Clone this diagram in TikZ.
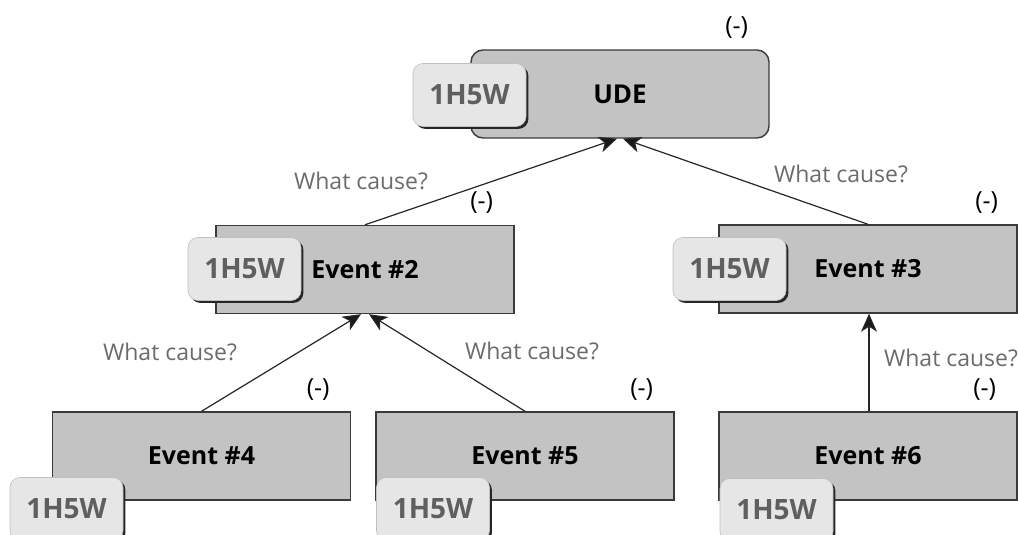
\documentclass[tikz,border=0pt]{standalone}
\usepackage{fontspec}
\setmainfont{Open Sans}
\usetikzlibrary{arrows.meta,shadows,calc}
\definecolor{boxfill}{HTML}{C3C3C3}
\definecolor{boxline}{HTML}{3A3A3A}
\definecolor{tagfill}{HTML}{E6E6E6}
\definecolor{tagtext}{HTML}{5F5F5F}
\definecolor{labtext}{HTML}{6B6B6B}
\tikzset{
  eventbox/.style={draw=boxline, fill=boxfill, line width=0.7pt, minimum width=149pt, minimum height=44pt, inner sep=0pt,
    font=\fontsize{12.5}{14}\selectfont\bfseries},
  udebox/.style={eventbox, rounded corners=6pt, font=\fontsize{13}{15}\selectfont\bfseries},
  tagbox/.style={fill=tagfill, draw=black!25, line width=0.3pt, rounded corners=5pt, minimum width=56.5pt, minimum height=31.5pt,
    inner sep=0pt, text=tagtext, font=\fontsize{14}{16}\selectfont\bfseries,
    drop shadow={shadow xshift=1.2pt, shadow yshift=-1.2pt, fill=black!85, opacity=1}},
  conn/.style={draw=black!85, line width=0.6pt, -{Stealth[length=9pt,width=8pt,inset=2.5pt,fill=black!90]}},
  causelab/.style={text=labtext, font=\fontsize{11.5}{13}\selectfont, inner sep=0pt},
  signlab/.style={text=black, font=\fontsize{12.5}{14}\selectfont, inner sep=0pt},
}
\begin{document}
\begin{tikzpicture}[x=0.5pt,y=-0.5pt]
\useasboundingbox (0,0) rectangle (1018,535);
\clip (0,0) rectangle (1018,535);
% main boxes
\node[udebox] (ude) at (620,94) {UDE};
\node[eventbox] (e2) at (365,269.5) {Event \#2};
\node[eventbox] (e3) at (868,269) {Event \#3};
\node[eventbox] (e4) at (201.5,456) {Event \#4};
\node[eventbox] (e5) at (525,456) {Event \#5};
\node[eventbox] (e6) at (868,456) {Event \#6};
% tags
\node[tagbox] (tude) at (469.5,95) {1H5W};
\node[tagbox] (te2) at (244.5,269) {1H5W};
\node[tagbox] (te3) at (729.5,269) {1H5W};
\node[tagbox] (te4) at (66.5,509) {1H5W};
\node[tagbox] (te5) at (433,509) {1H5W};
\node[tagbox] (te6) at (776.5,510) {1H5W};
% signs
\node[signlab] (sude) at ($(ude.north east)+(-33,-22)$) {(-)};
\node[signlab] (se2) at ($(e2.north east)+(-33,-22)$) {(-)};
\node[signlab] (se3) at ($(e3.north east)+(-31,-22)$) {(-)};
\node[signlab] (se4) at ($(e4.north east)+(-33,-22)$) {(-)};
\node[signlab] (se5) at ($(e5.north east)+(-33,-22)$) {(-)};
\node[signlab] (se6) at ($(e6.north east)+(-33,-22)$) {(-)};
% connectors
\draw[conn] (e2.north) -- ([xshift=-1.5pt]ude.south);
\draw[conn] (e3.north) -- ([xshift=1.5pt]ude.south);
\draw[conn] (e4.north) -- ([xshift=-2pt]e2.south);
\draw[conn] (e5.north) -- ([xshift=2pt]e2.south);
\draw[conn] ([xshift=0.5pt]e6.north) -- ([xshift=0.5pt]e3.south);
% cause labels
\node[causelab] (c1) at (361,181) {What cause?};
\node[causelab] (c2) at (841,174) {What cause?};
\node[causelab] (c3) at (170,352) {What cause?};
\node[causelab] (c4) at (532,351) {What cause?};
\node[causelab] (c5) at (951,358) {What cause?};
\end{tikzpicture}
\end{document}
